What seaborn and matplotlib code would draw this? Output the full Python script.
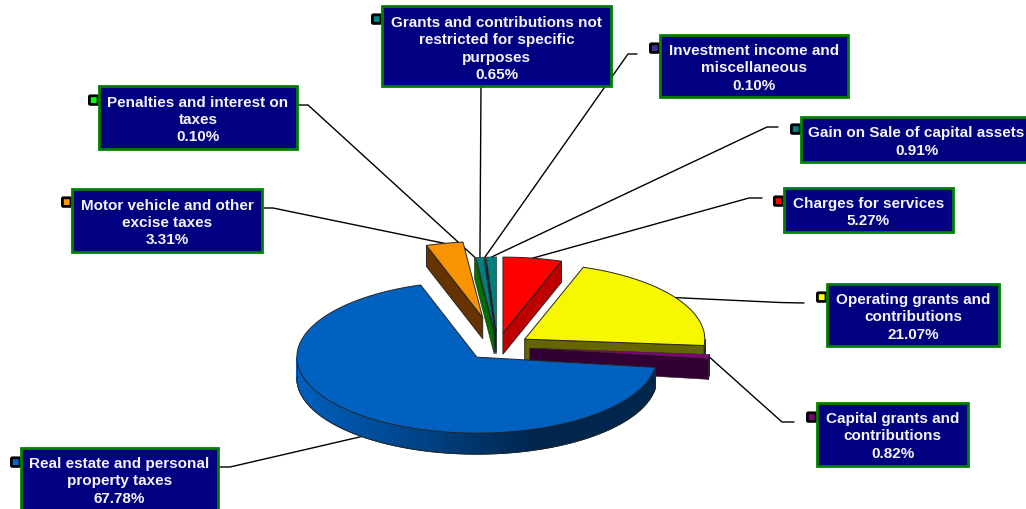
import numpy as np
import matplotlib
matplotlib.use("Agg")
import matplotlib.pyplot as plt
from matplotlib.patches import Polygon, Rectangle, FancyBboxPatch
import seaborn as sns

# Revenue shares, listed clockwise from twelve o'clock
categories = [
    "Charges for services",
    "Operating grants and\ncontributions",
    "Capital grants and\ncontributions",
    "Real estate and personal\nproperty taxes",
    "Motor vehicle and other\nexcise taxes",
    "Penalties and interest on\ntaxes",
    "Grants and contributions not\nrestricted for specific\npurposes",
    "Investment income and\nmiscellaneous",
    "Gain on Sale of capital assets",
]
shares = [5.27, 21.07, 0.82, 67.78, 3.31, 0.10, 0.65, 0.10, 0.91]
explode = [0.18, 0.18, 0.18, 0.18, 0.39, 0.18, 0.18, 0.18, 0.18]
top_colors = ["#FF0000", "#F7F700", "#800080", "#0061C1", "#F79400",
              "#00A000", "#007F7F", "#1A1A66", "#007F7F"]
side_colors = ["#BF0000", "#666600", "#330033", "#0060BE", "#663300",
               "#007000", "#003F3F", "#000022", "#001A1A"]
key_colors = ["#FF0000", "#FFFF00", "#800080", "#0066CC", "#FF9900",
              "#00FF00", "#008080", "#333399", "#008080"]

# Label boxes: left, top, right, bottom, and the centre line of the text
boxes = [
    (784, 189, 953, 233, 212.5),
    (827, 285, 999, 347, 317.5),
    (817, 404, 968, 467, 436.5),
    (21, 449, 218, 514, 481.5),
    (72, 190, 262, 253, 223),
    (99, 87, 297, 150, 120),
    (382, 7, 611, 87, 49),
    (660, 36, 848, 98, 68.5),
    (801, 118, 1036, 163, 142),
]
key_tops = [197, 293, 413, 458, 198, 96, 15, 44, 125]
# Elbows of the leader lines, from the label end towards the slice
leaders = [
    [(762, 199), (749, 199)],
    [(804, 304), (780, 303.5)],
    [(794, 423), (782, 423)],
    [(218, 468), (230, 468)],
    [(263, 209), (273, 209)],
    [(297, 106), (308, 106)],
    [(481, 87)],
    [(637, 55), (628, 55)],
    [(778, 128), (767, 128)],
]

CX, CY = 497.6, 347.6
RX, RY = 180.0, 76.0
DEPTH = 21.0
EDGE = "#262626"

sns.set_theme(style="white")
plt.rcParams["font.family"] = ["Liberation Sans", "DejaVu Sans"]

fig = plt.figure(figsize=(10.26, 5.10), dpi=100, facecolor="white")
ax = fig.add_axes([0, 0, 1, 1])
ax.set_xlim(0, 1026)
ax.set_ylim(510, 0)
ax.axis("off")


def rim_point(theta, apex):
    return apex[0] + RX * np.sin(theta), apex[1] - RY * np.cos(theta)


def lowered(points):
    return [(x, y + DEPTH) for x, y in points]


edges = np.radians(np.concatenate([[0], np.cumsum(shares)]) * 3.6)
mid_angles = (edges[:-1] + edges[1:]) / 2
apexes = [(CX + e * RX * np.sin(m), CY - e * RY * np.cos(m))
          for e, m in zip(explode, mid_angles)]

# Leader lines sit under the pie and its labels
for i, path in enumerate(leaders):
    end = rim_point(mid_angles[i], apexes[i])
    if np.sin(mid_angles[i]) < 0 and np.cos(mid_angles[i]) < 0:
        end = (end[0], end[1] + DEPTH)
    xs, ys = zip(*(path + [end]))
    ax.plot(xs, ys, color="black", lw=1.0, zorder=2, solid_joinstyle="miter")

# Paint the slices from back to front so nearer ones overlap farther ones
paint_order = [8, 7, 6, 5, 4, 0, 1, 2, 3]
# Shading of the big slice's wall runs from light on the left to dark on the right
rim_cmap = sns.blend_palette(["#0060BE", "#004488", "#00264E", "#00264E"], 64, as_cmap=True)

for rank, i in enumerate(paint_order):
    a0, a1 = edges[i], min(edges[i + 1], 2 * np.pi)
    apex = apexes[i]
    z = 3 + rank
    arc = [rim_point(t, apex) for t in np.linspace(a0, a1, 120)]
    width = 0.7 if shares[i] > 2 else 0.35

    # Flat radial wall facing the viewer
    for angle, visible in ((a0, np.sin(a0) < -1e-6), (a1, np.sin(a1) > 1e-6)):
        if visible:
            p = rim_point(angle, apex)
            wall = [apex, p] + lowered([p, apex])
            ax.add_patch(Polygon(wall, closed=True, fc=side_colors[i], ec=EDGE,
                                 lw=width, zorder=z))

    # Curved wall along the front half of the ellipse
    lo, hi = max(a0, np.pi / 2), min(a1, 3 * np.pi / 2)
    if hi > lo:
        ts = np.linspace(lo, hi, 241)
        rim = np.array([rim_point(t, apex) for t in ts])
        if i == 3:
            X = np.vstack([rim[:, 0], rim[:, 0]])
            Y = np.vstack([rim[:, 1], rim[:, 1] + DEPTH])
            ax.pcolormesh(X, Y, X, shading="gouraud", cmap=rim_cmap,
                          vmin=297, vmax=655, zorder=z)
        else:
            ax.add_patch(Polygon(list(map(tuple, rim)) + lowered(list(map(tuple, rim)))[::-1],
                                 closed=True, fc=side_colors[i], ec=side_colors[i],
                                 lw=0.4, zorder=z))
        bottom = lowered(list(map(tuple, rim)))
        ax.plot(*zip(*bottom), color=EDGE, lw=0.7, zorder=z)
        for t in (lo, hi):
            p = rim_point(t, apex)
            ax.plot([p[0], p[0]], [p[1], p[1] + DEPTH], color=EDGE, lw=0.7, zorder=z)

    ax.add_patch(Polygon([apex] + arc, closed=True, fc=top_colors[i], ec=EDGE,
                         lw=width, zorder=z + 0.5, joinstyle="miter"))

# Label boxes with their colour keys
for i, name in enumerate(categories):
    left, top, right, bottom, text_y = boxes[i]
    ax.add_patch(Rectangle((left, top), right - left, bottom - top, fc="#000080",
                           ec="#008000", lw=2.0, zorder=20))
    ax.text((left + right) / 2 if right < 1030 else 916.5, text_y,
            f"{name}\n{shares[i]:.2f}%", color="#F4F4FA", fontsize=11.0,
            fontweight="bold", ha="center", va="center", linespacing=1.31, zorder=21)
    ky = key_tops[i]
    ax.add_patch(FancyBboxPatch((left - 9.6, ky + 0.8), 8.6, 8.6,
                                boxstyle="round,pad=0,rounding_size=1.0",
                                fc=key_colors[i], ec="black", lw=2.0, zorder=19))

fig.savefig("out.png", dpi=100, facecolor="white")
